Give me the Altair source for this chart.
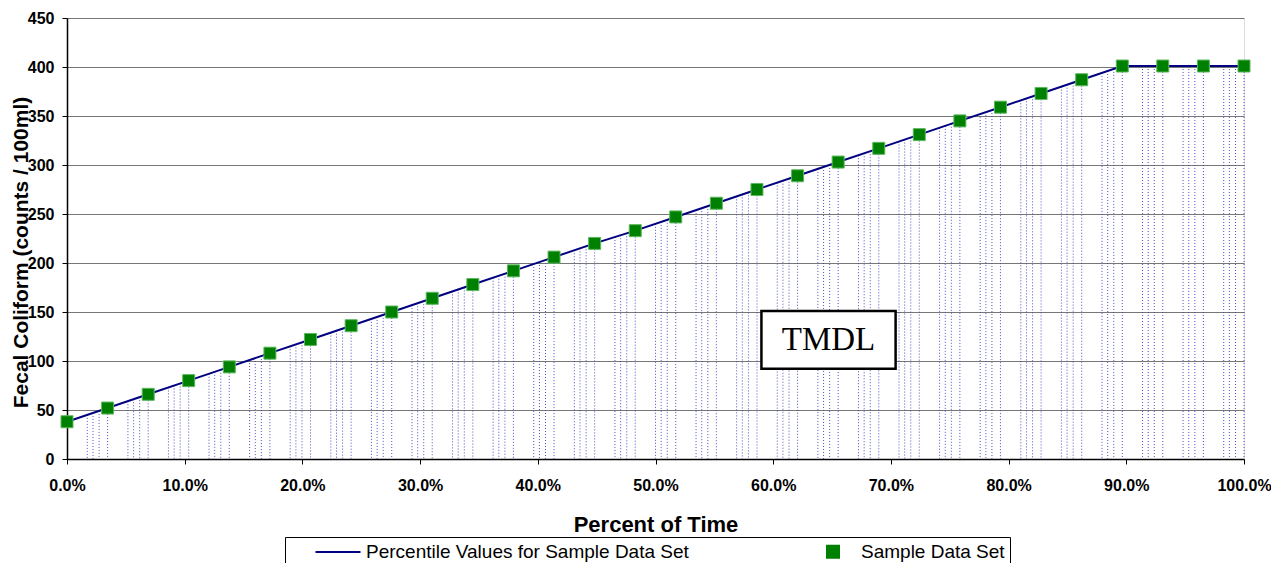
import altair as alt
import pandas as pd

# ---- data ----
PERCENT_OF_TIME = [0.0, 0.0345, 0.069, 0.1034, 0.1379, 0.1724, 0.2069, 0.2414, 0.2759, 0.3103,
                   0.3448, 0.3793, 0.4138, 0.4483, 0.4828, 0.5172, 0.5517, 0.5862, 0.6207, 0.6552,
                   0.6897, 0.7241, 0.7586, 0.7931, 0.8276, 0.8621, 0.8966, 0.931, 0.9655, 1.0]
FECAL_COLIFORM = [38, 52, 66, 80, 94, 108, 122, 136, 150, 164,
                  178, 192, 206, 220, 233, 247, 261, 275, 289, 303,
                  317, 331, 345, 359, 373, 387, 401, 401, 401, 401]
LINE_NAME = "Percentile Values for Sample Data Set"
POINT_NAME = "Sample Data Set"
X_TICKS = [0.0, 0.1, 0.2, 0.3, 0.4, 0.5, 0.6, 0.7, 0.8, 0.9, 1.0]
Y_TICKS = [0, 50, 100, 150, 200, 250, 300, 350, 400, 450]
X_TITLE = "Percent of Time"
Y_TITLE = "Fecal Coliform (counts / 100ml)"

TMDL_LABEL = ["TMDL"]
TMDL_BOX_X = [0.59, 0.704]
TMDL_BOX_Y = [92, 151]

# style: where the hatch lines of the area pattern sit inside each segment
HATCH_FRACTIONS = [0.5, 0.64, 0.79, 1.0]

FONT = "Liberation Sans"
SERIES = [LINE_NAME, POINT_NAME]

df = pd.DataFrame({"pct": PERCENT_OF_TIME, "fc": FECAL_COLIFORM})
line_df = df.assign(series=LINE_NAME)
pts_df = df.assign(series=POINT_NAME)
box_df = pd.DataFrame({"x": [TMDL_BOX_X[0]], "x2": [TMDL_BOX_X[1]],
                       "y": [TMDL_BOX_Y[0]], "y2": [TMDL_BOX_Y[1]],
                       "label": TMDL_LABEL})

x_scale = alt.Scale(domain=[0, 1], nice=False, zero=False)
y_scale = alt.Scale(domain=[0, 450], nice=False)

x_axis = alt.Axis(values=X_TICKS, format=".1%", title=X_TITLE, grid=False,
                  labelFont=FONT, labelFontSize=16, labelFontWeight="bold", labelColor="black",
                  labelPadding=13, tickSize=5, tickColor="black", domainColor="black", domainWidth=1.5,
                  titleFont=FONT, titleFontSize=22, titleFontWeight="bold", titleColor="black",
                  titleY=72, titleBaseline="alphabetic", labelFlush=False)
y_axis = alt.Axis(values=Y_TICKS, title=Y_TITLE, grid=True, gridColor="#777777", gridWidth=1,
                  labelFont=FONT, labelFontSize=16, labelFontWeight="bold", labelColor="black",
                  labelPadding=8, tickSize=5, tickColor="black", domainColor="black", domainWidth=1.5,
                  titleFont=FONT, titleFontSize=21, titleFontWeight="bold", titleColor="black",
                  titleX=-40, titleY=234, titleAngle=270, titleAlign="center",
                  titleBaseline="alphabetic")

legend = alt.Legend(
    title=" ", titleOrient="left", titlePadding=38, titleFontSize=10,
    orient="none", legendX=218, legendY=519, direction="horizontal", columns=2,
    columnPadding=134, labelFont=FONT, labelFontSize=19, labelColor="black", labelLimit=1000,
    labelOffset=18, padding=5, strokeColor="black", fillColor="white",
    symbolStrokeWidth=2, symbolOpacity=1,
)
color_scale = alt.Scale(domain=SERIES, range=["#000080", "#008000"])
stroke_scale = alt.Scale(domain=SERIES, range=["#000080", "#5cb85c"])
shape_scale = alt.Scale(domain=SERIES, range=["M-2.5,0H2.5", "square"])
size_scale = alt.Scale(domain=SERIES, range=[324, 144])

hatch = (
    alt.Chart(df)
    .transform_window(px="lag(pct)", py="lag(fc)", sort=[alt.SortField("pct")])
    .transform_filter("datum.px != null")
    .transform_calculate(f=str(HATCH_FRACTIONS))
    .transform_flatten(["f"])
    .transform_calculate(hx="datum.px + datum.f * (datum.pct - datum.px)",
                         hy="datum.py + datum.f * (datum.fc - datum.py)")
    .mark_rule(color="#3c3cc0", strokeDash=[1, 2], strokeWidth=1, opacity=0.9)
    .encode(x=alt.X("hx:Q", scale=x_scale, axis=x_axis),
            y=alt.Y("hy:Q", scale=y_scale, axis=y_axis),
            y2=alt.datum(0))
)

box = (
    alt.Chart(box_df)
    .mark_rect(fill="white", stroke="black", strokeWidth=2.5)
    .encode(x=alt.X("x:Q", scale=x_scale, axis=x_axis), x2="x2:Q",
            y=alt.Y("y:Q", scale=y_scale, axis=y_axis), y2="y2:Q")
)
box_text = (
    alt.Chart(box_df)
    .transform_calculate(cx="(datum.x + datum.x2) / 2", cy="(datum.y + datum.y2) / 2")
    .mark_text(font="Liberation Serif", fontSize=33, color="black", align="center", baseline="middle")
    .encode(x=alt.X("cx:Q", scale=x_scale, axis=x_axis),
            y=alt.Y("cy:Q", scale=y_scale, axis=y_axis),
            text="label:N")
)

line = (
    alt.Chart(line_df)
    .mark_line(strokeWidth=2)
    .encode(x=alt.X("pct:Q", scale=x_scale, axis=x_axis),
            y=alt.Y("fc:Q", scale=y_scale, axis=y_axis),
            color=alt.Color("series:N", scale=color_scale, legend=legend))
)
points = (
    alt.Chart(pts_df)
    .mark_point(filled=True, opacity=1, strokeWidth=1)
    .encode(x=alt.X("pct:Q", scale=x_scale, axis=x_axis),
            y=alt.Y("fc:Q", scale=y_scale, axis=y_axis),
            color=alt.Color("series:N", scale=color_scale, legend=legend),
            stroke=alt.Stroke("series:N", scale=stroke_scale, legend=legend),
            shape=alt.Shape("series:N", scale=shape_scale, legend=legend),
            size=alt.Size("series:N", scale=size_scale, legend=legend))
)

chart = (
    alt.layer(hatch, box, box_text, line, points)
    .properties(width=1177, height=441,
                autosize=alt.AutoSizeParams(type="none"),
                padding={"left": 59, "top": 10, "right": 27, "bottom": 104})
    .configure_view(stroke="#888888", strokeWidth=2)
    .configure(background="white")
)

chart.save("out.html", embed_options={"renderer": "svg", "actions": False})
